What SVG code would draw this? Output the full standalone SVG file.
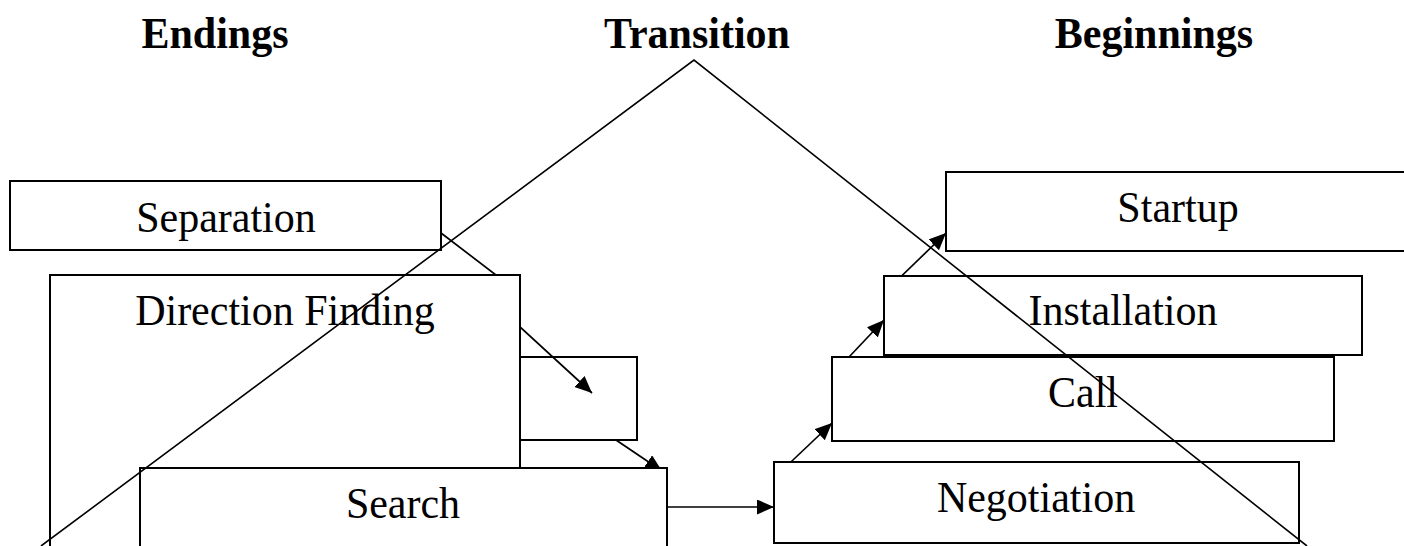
<svg xmlns="http://www.w3.org/2000/svg" width="1404" height="546" viewBox="0 0 1404 546">
  <style>
    .box { fill: #fff; stroke: #000; stroke-width: 2; }
    .open { fill: none; stroke: #000; stroke-width: 2; }
    .label { font-family: "Liberation Serif", "Times New Roman", serif; font-size: 42px; fill: #000; text-anchor: middle; }
    .title { font-family: "Liberation Serif", "Times New Roman", serif; font-size: 42px; font-weight: bold; fill: #000; text-anchor: middle; }
    .link { fill: none; stroke: #000; stroke-width: 1.7; }
    .curve { fill: none; stroke: #000; stroke-width: 1.6; }
  </style>
  <defs>
    <marker id="arrow" markerUnits="userSpaceOnUse" markerWidth="20" markerHeight="18" refX="17" refY="7.5" orient="auto">
      <path d="M0,0 L17,7.5 L0,15 z" fill="#000"/>
    </marker>
  </defs>

  <rect width="1404" height="546" fill="#fff"/>

  <!-- column headings -->
  <g id="headings">
    <text class="title" transform="translate(215,48) scale(1,1.07)">Endings</text>
    <text class="title" transform="translate(697,48) scale(1,1.07)">Transition</text>
    <text class="title" transform="translate(1154,48) scale(1,1.07)">Beginnings</text>
  </g>

  <!-- unlabelled intermediate stage (outline only) -->
  <g id="node-gap">
    <rect class="open" x="520" y="357" width="117" height="83"/>
  </g>

  <!-- connectors -->
  <g id="connectors">
    <path class="link" d="M441,233 L496,275 L520,327 L592,393" marker-end="url(#arrow)"/>
    <path class="link" d="M616,440 L662,471" marker-end="url(#arrow)"/>
    <path class="link" d="M667,507 L774,507" stroke-width="2.2" marker-end="url(#arrow)"/>
    <path class="link" d="M774,478 L832,423" marker-end="url(#arrow)"/>
    <path class="link" d="M832,375 L884,320" marker-end="url(#arrow)"/>
    <path class="link" d="M884,293 L946,233" marker-end="url(#arrow)"/>
  </g>

  <!-- endings -->
  <g id="node-separation">
    <rect class="box" x="10" y="181" width="431" height="69"/>
    <text class="label" transform="translate(226,232) scale(1,1.06)">Separation</text>
  </g>
  <g id="node-direction-finding">
    <rect class="box" x="50" y="275" width="470" height="290"/>
    <text class="label" transform="translate(285,325) scale(1,1.06)">Direction Finding</text>
  </g>
  <g id="node-search">
    <rect class="box" x="140" y="468" width="527" height="100"/>
    <text class="label" transform="translate(403,518) scale(1,1.06)">Search</text>
  </g>

  <!-- beginnings -->
  <g id="node-negotiation">
    <rect class="box" x="774" y="462" width="525" height="81"/>
    <text class="label" transform="translate(1036,512) scale(1,1.06)">Negotiation</text>
  </g>
  <g id="node-call">
    <rect class="box" x="832" y="357" width="502" height="84"/>
    <text class="label" transform="translate(1083,407) scale(1,1.06)">Call</text>
  </g>
  <g id="node-installation">
    <rect class="box" x="884" y="276" width="478" height="79"/>
    <text class="label" transform="translate(1123,325) scale(1,1.06)">Installation</text>
  </g>
  <g id="node-startup">
    <rect class="box" x="946" y="172" width="470" height="79"/>
    <text class="label" transform="translate(1178,222) scale(1,1.06)">Startup</text>
  </g>

  <!-- transition arc drawn over the stages -->
  <g id="transition-curve">
    <polyline class="curve" points="41,546 694,60 1307,546"/>
  </g>
</svg>
